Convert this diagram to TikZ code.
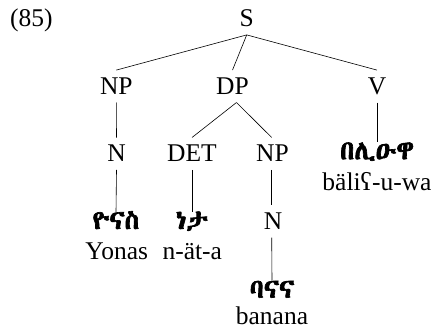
\documentclass[tikz,border=0pt]{standalone}
\usepackage{fontspec}
\setmainfont{Liberation Serif}
\IfFontExistsTF{Abyssinica SIL}{\newfontfamily\ethfont{Abyssinica SIL}[AutoFakeBold=2.5]}{%
  \IfFontExistsTF{FreeSerif}{\newfontfamily\ethfont{FreeSerif}[AutoFakeBold=2.5]}{%
    \newfontfamily\ethfont{DejaVu Sans}}}
\begin{document}
\begin{tikzpicture}[x=1pt,y=-1pt,
  lab/.style={inner xsep=0pt,inner ysep=8pt,text height=16pt,text depth=0pt,anchor=base,font=\fontsize{25.5}{30}\selectfont},
  eth/.style={inner xsep=0pt,inner ysep=0pt,text height=17pt,text depth=0pt,anchor=base,font=\fontsize{26.5}{30}\selectfont\ethfont\bfseries},
  tr/.style={inner sep=0pt,text height=17pt,text depth=0pt,anchor=base,font=\fontsize{25.5}{30}\selectfont},
  edge/.style={line width=0.6pt}]
\useasboundingbox (0,0) rectangle (433,329);
\node[tr,anchor=base west] (num) at (10,26.7) {(85)};
\node[lab] (S) at (246.7,26.7) {S};
\node[lab] (NPa) at (116.3,94.3) {NP};
\node[lab] (DP) at (232.5,94.3) {DP};
\node[lab] (V) at (377,94.3) {V};
\node[lab] (Na) at (116.5,161.7) {N};
\node[lab] (DET) at (192,161.7) {DET};
\node[lab] (NPb) at (272.5,161.7) {NP};
\node[lab] (Nb) at (273,229.3) {N};
\node[eth] (verb) at (377,159.3) {በሊዑዋ};
\node[tr] (verbt) at (377,190) {bäli\char"0295-u-wa};
\node[eth] (yon) at (116,229) {ዮናስ};
\node[tr] (yont) at (116.7,259.3) {Yonas};
\node[eth] (det) at (192,229) {ነታ};
\node[tr] (dett) at (192.3,259.3) {n-ät-a};
\node[eth] (ban) at (272,297.7) {ባናና};
\node[tr] (bant) at (272,324.5) {banana};
\draw[edge] (S.south) -- (NPa.north);
\draw[edge] (S.south) -- (DP.north);
\draw[edge] (S.south) -- (V.north);
\draw[edge] (NPa.south) -- (Na.north);
\draw[edge] ([xshift=4pt]DP.south) -- (DET.north);
\draw[edge] ([xshift=4pt]DP.south) -- ([xshift=-0.8pt]NPb.north);
\draw[edge] (V.south) -- (verb.north);
\draw[edge] (Na.south) -- (yon.north);
\draw[edge] (DET.south) -- (det.north);
\draw[edge] ([xshift=-0.8pt]NPb.south) -- ([xshift=-1.3pt]Nb.north);
\draw[edge] ([xshift=-1.3pt]Nb.south) -- (ban.north);
\end{tikzpicture}
\end{document}
